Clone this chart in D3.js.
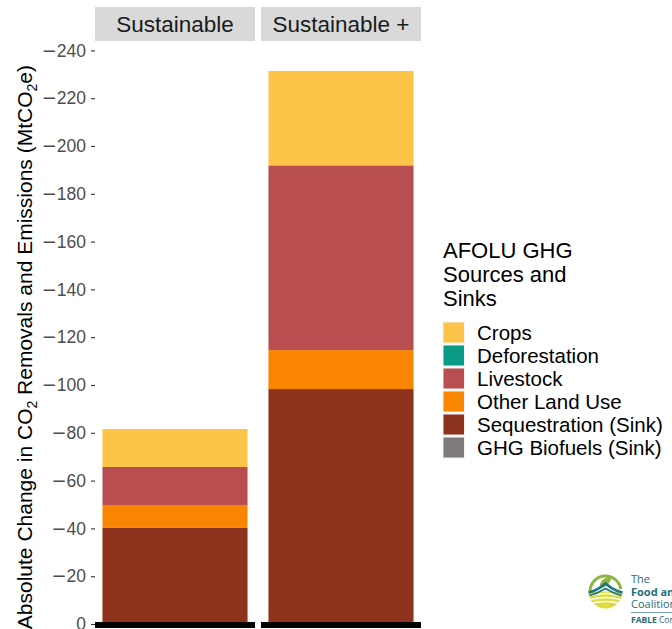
<!DOCTYPE html>
<html>
<head>
<meta charset="utf-8">
<script src="https://cdn.jsdelivr.net/npm/d3@7"></script>
<style>
  html, body { margin: 0; padding: 0; background: #fff; }
  svg { display: block; font-family: "Liberation Sans", Arial, Helvetica, sans-serif; }
</style>
</head>
<body>
<svg id="chart" width="672" height="629"></svg>
<script>
// ---- data ----
const scenarios = ["Sustainable", "Sustainable +"];
const categories = ["Crops", "Deforestation", "Livestock", "Other Land Use", "Sequestration (Sink)", "GHG Biofuels (Sink)"];
const colors = ["#fdc449", "#0a9b86", "#b84e50", "#f98500", "#8d321d", "#7f7b7b"];
const crops = [-15.9, -39.5];
const deforestation = [0, 0];
const livestock = [-15.9, -77.3];
const otherLandUse = [-9.6, -16.3];
const sequestration = [-40.2, -98.3];
const biofuels = [0, 0];
const yTicks = [0, -20, -40, -60, -80, -100, -120, -140, -160, -180, -200, -220, -240];
const legendTitle = ["AFOLU GHG", "Sources and", "Sinks"];

const seriesValues = {
  "Crops": crops,
  "Deforestation": deforestation,
  "Livestock": livestock,
  "Other Land Use": otherLandUse,
  "Sequestration (Sink)": sequestration,
  "GHG Biofuels (Sink)": biofuels
};
const rows = scenarios.map((s, i) => {
  const r = { scenario: s };
  categories.forEach(c => r[c] = seriesValues[c][i]);
  return r;
});

const svg = d3.select("#chart");
const color = d3.scaleOrdinal().domain(categories).range(colors);

// ---- scales ----
const y = d3.scaleLinear().domain([0, -240]).range([624, 50.4]);
const facet = d3.scaleBand().domain(scenarios).range([95, 421]).paddingInner(0.036).paddingOuter(0);
const inner = d3.scaleBand().domain(["bar"]).range([0, facet.bandwidth()]).paddingInner(0.049).paddingOuter(0.049);

const panelTop = 41;

// ---- strips ----
const strips = svg.append("g");
scenarios.forEach(s => {
  strips.append("rect").attr("x", facet(s)).attr("y", 7)
    .attr("width", facet.bandwidth()).attr("height", panelTop - 7).attr("fill", "#d9d9d9");
  strips.append("text").attr("x", facet(s) + facet.bandwidth() / 2).attr("y", 32)
    .attr("text-anchor", "middle").attr("font-size", 22.5).attr("fill", "#1a1a1a").text(s);
});

// ---- stacked bars ----
const stackKeys = categories.slice().reverse();
const stacked = d3.stack().keys(stackKeys).offset(d3.stackOffsetDiverging)(rows);
const bars = svg.append("g");
stacked.forEach(layer => {
  layer.forEach(d => {
    const y0 = y(d[0]), y1 = y(d[1]);
    const top = Math.min(y0, y1), h = Math.abs(y1 - y0);
    if (h <= 0) return;
    bars.append("rect")
      .attr("x", facet(d.data.scenario) + inner("bar"))
      .attr("y", top).attr("width", inner.bandwidth()).attr("height", h)
      .attr("fill", color(layer.key));
  });
});

// ---- zero line ----
scenarios.forEach(s => {
  svg.append("line").attr("x1", facet(s)).attr("x2", facet(s) + facet.bandwidth())
    .attr("y1", y(0) + 1).attr("y2", y(0) + 1)
    .attr("stroke", "#000").attr("stroke-width", 6);
});

// ---- y axis ----
const yAxis = d3.axisLeft(y).tickValues(yTicks).tickFormat("").tickSize(4).tickPadding(5);
const ax = svg.append("g").attr("transform", "translate(95,0)").call(yAxis);
ax.select(".domain").remove();
ax.selectAll(".tick line").attr("stroke", "#333333").attr("stroke-width", 1.1);
ax.selectAll(".tick text").each(function (v) {
  const t = d3.select(this).text(null)
    .attr("font-size", 17.5).attr("fill", "#4d4d4d")
    .attr("font-family", "'Liberation Sans', Arial, sans-serif");
  if (v < 0) {
    t.append("tspan").attr("font-family", "'DejaVu Sans', sans-serif").attr("font-size", 18).text("\u2212");
  }
  t.append("tspan").text(Math.abs(v));
});

// ---- y title ----
const yt = svg.append("text")
  .attr("transform", "translate(31.5,65) rotate(-90)")
  .attr("text-anchor", "end").attr("font-size", 21).attr("fill", "#000");
yt.append("tspan").text("Absolute Change in CO");
yt.append("tspan").attr("font-size", 14).attr("dy", 5).text("2");
yt.append("tspan").attr("dy", -5).text(" Removals and Emissions (MtCO");
yt.append("tspan").attr("font-size", 14).attr("dy", 5).text("2");
yt.append("tspan").attr("dy", -5).text("e)");

// ---- legend ----
const lg = svg.append("g");
legendTitle.forEach((t, i) => {
  lg.append("text").attr("x", 443).attr("y", 258 + i * 23.8)
    .attr("font-size", 22).attr("fill", "#000").text(t);
});
categories.forEach((c, i) => {
  const ky = 322 + i * 23;
  lg.append("rect").attr("x", 443).attr("y", ky).attr("width", 21.5).attr("height", 21)
    .attr("fill", color(c)).attr("stroke", "#f2f2f2").attr("stroke-width", 1);
  lg.append("text").attr("x", 477).attr("y", ky + 17.5)
    .attr("font-size", 20.5).attr("fill", "#000").text(c);
});

// ---- logo ----
const logo = svg.append("g");
const cx = 605.5, cy = 591.5, r = 17;
const arc = d3.arc();
logo.append("path").attr("transform", `translate(${cx},${cy})`)
  .attr("d", arc({ innerRadius: 0, outerRadius: r, startAngle: Math.PI / 2, endAngle: Math.PI * 1.5 }))
  .attr("fill", "#dcdc3c");
[4, 8, 12].forEach(dy => {
  logo.append("path")
    .attr("d", `M${cx - r + 2},${cy + dy} Q${cx},${cy + dy - 4} ${cx + r - 2},${cy + dy}`)
    .attr("stroke", "#fff").attr("stroke-width", 1.3).attr("fill", "none");
});
logo.append("path").attr("transform", `translate(${cx},${cy})`)
  .attr("d", arc({ innerRadius: r - 3, outerRadius: r, startAngle: -Math.PI / 2, endAngle: Math.PI * 0.45 }))
  .attr("fill", "#8db63f");
logo.append("path")
  .attr("d", `M${cx - 6},${cy - 3} Q${cx - 6},${cy - 14} ${cx + 6},${cy - 15} Q${cx + 5},${cy - 5} ${cx - 6},${cy - 3}Z`)
  .attr("fill", "#8db63f");
logo.append("path")
  .attr("d", `M${cx - r},${cy + 1} Q${cx - 8},${cy - 1} ${cx},${cy - 8} Q${cx + 8},${cy - 1} ${cx + r},${cy + 1}`)
  .attr("stroke", "#1d7482").attr("stroke-width", 2.5).attr("fill", "none");
logo.append("path")
  .attr("d", `M${cx - r + 1},${cy + 4} Q${cx - 8},${cy + 2} ${cx},${cy - 3} Q${cx + 8},${cy + 2} ${cx + r - 1},${cy + 4}`)
  .attr("stroke", "#1d7482").attr("stroke-width", 1.6).attr("fill", "none");
const tc = "#1f6e79";
logo.append("text").attr("x", 631).attr("y", 583).attr("font-size", 11).attr("fill", tc)
  .attr("font-family", "'Open Sans', sans-serif").text("The");
logo.append("text").attr("x", 631).attr("y", 596).attr("font-size", 11).attr("font-weight", "bold").attr("fill", tc)
  .attr("font-family", "'Open Sans', sans-serif").text("Food and");
logo.append("text").attr("x", 631).attr("y", 608).attr("font-size", 11).attr("fill", tc)
  .attr("font-family", "'Open Sans', sans-serif").text("Coalition");
logo.append("line").attr("x1", 631).attr("x2", 672).attr("y1", 612.5).attr("y2", 612.5)
  .attr("stroke", "#7aa7ad").attr("stroke-width", 1);
logo.append("text").attr("x", 631).attr("y", 623).attr("font-size", 8.5).attr("fill", tc)
  .attr("font-family", "'Open Sans', sans-serif")
  .html('<tspan font-weight="bold">FABLE</tspan> Consortium');
</script>
</body>
</html>
